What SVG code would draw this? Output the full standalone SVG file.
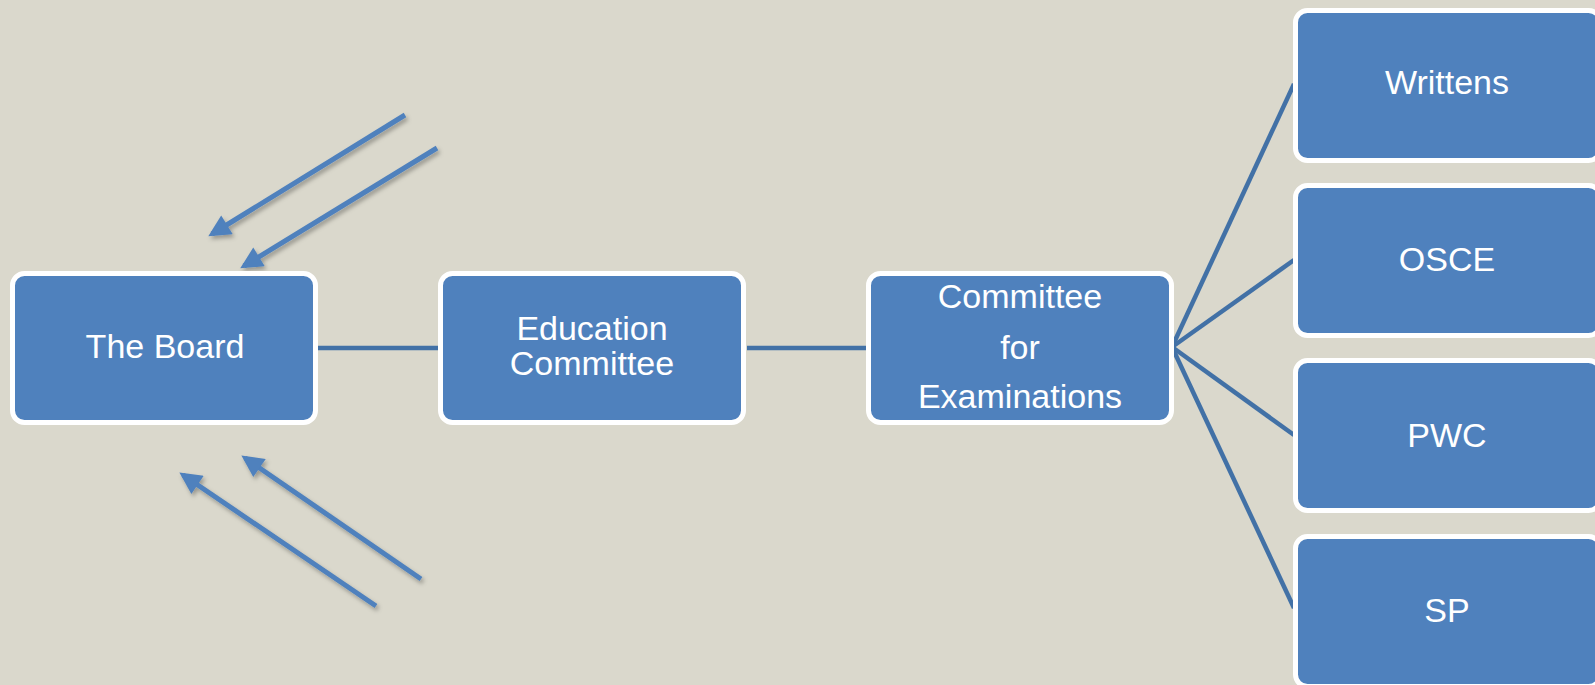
<svg xmlns="http://www.w3.org/2000/svg" width="1595" height="685" viewBox="0 0 1595 685">
<style>
.box{fill:#4F81BD;stroke:#FFFFFF;stroke-width:5}
.lbl{font-family:"Liberation Sans",Arial,sans-serif;font-size:34px;fill:#FFFFFF;text-anchor:middle}
.conn{stroke:#4271A6;stroke-width:4.5;fill:none}
.arr{stroke:#4F81BD;stroke-width:5;fill:none;marker-end:url(#ah)}
</style>
<defs>
<marker id="ah" viewBox="0 0 10 10" refX="8" refY="5" markerWidth="4.6" markerHeight="4.4" orient="auto" markerUnits="strokeWidth">
<path d="M0,0 L10,5 L0,10 Z" fill="#4F81BD"/>
</marker>
<filter id="sh" x="-20%" y="-20%" width="140%" height="140%">
<feDropShadow dx="2" dy="3" stdDeviation="2" flood-color="#000" flood-opacity="0.3"/>
</filter>
</defs>
<rect width="1595" height="685" fill="#DAD8CC"/>
<g id="connectors">
<line class="conn" x1="318" y1="348" x2="438" y2="348"/>
<line class="conn" x1="747" y1="348" x2="866" y2="348"/>
<line class="conn" x1="1172" y1="347" x2="1294" y2="84"/>
<line class="conn" x1="1172" y1="347" x2="1294" y2="260"/>
<line class="conn" x1="1172" y1="347" x2="1294" y2="435"/>
<line class="conn" x1="1172" y1="347" x2="1294" y2="608"/>
<g filter="url(#sh)">
<line class="arr" x1="405" y1="115" x2="212" y2="234"/>
<line class="arr" x1="437" y1="148" x2="244" y2="266"/>
<line class="arr" x1="376" y1="606" x2="183" y2="475"/>
<line class="arr" x1="421" y1="579" x2="245" y2="458"/>
</g>
</g>
<g id="board">
<rect class="box" x="12.5" y="273.5" width="303" height="149" rx="12"/>
<text class="lbl" x="165" y="358">The Board</text>
</g>
<g id="education">
<rect class="box" x="440.5" y="273.5" width="303" height="149" rx="12"/>
<text class="lbl" x="592" y="340">Education</text>
<text class="lbl" x="592" y="375">Committee</text>
</g>
<g id="exams">
<rect class="box" x="868.5" y="273.5" width="303" height="149" rx="12"/>
<text class="lbl" x="1020" y="308">Committee</text>
<text class="lbl" x="1020" y="359">for</text>
<text class="lbl" x="1020" y="408">Examinations</text>
</g>
<g id="writtens">
<rect class="box" x="1295.5" y="10.5" width="305" height="150" rx="12"/>
<text class="lbl" x="1447" y="94">Writtens</text>
</g>
<g id="osce">
<rect class="box" x="1295.5" y="185.5" width="305" height="150" rx="12"/>
<text class="lbl" x="1447" y="271">OSCE</text>
</g>
<g id="pwc">
<rect class="box" x="1295.5" y="360.5" width="305" height="150" rx="12"/>
<text class="lbl" x="1447" y="447">PWC</text>
</g>
<g id="sp">
<rect class="box" x="1295.5" y="536.5" width="305" height="150" rx="12"/>
<text class="lbl" x="1447" y="622">SP</text>
</g>
</svg>
